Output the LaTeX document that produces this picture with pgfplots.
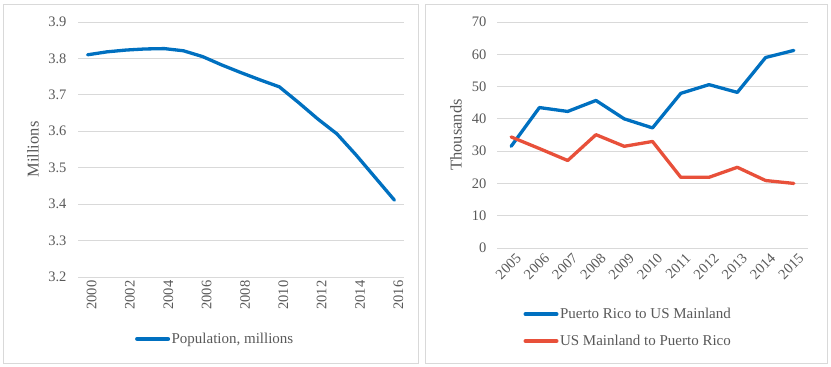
\documentclass[border=0pt]{standalone}
\usepackage{fontspec}
\setmainfont{Liberation Serif}
\usepackage{pgfplots}
\pgfplotsset{compat=1.18}
\definecolor{xlblue}{RGB}{0,112,192}
\definecolor{xlred}{RGB}{232,80,58}
\definecolor{gridc}{RGB}{217,217,217}
\definecolor{txtc}{RGB}{89,89,89}
\pgfplotsset{
  xlstyle/.style={
    scale only axis,
    axis line style={draw=none},
    ymajorgrids,
    grid style={gridc, line width=1bp},
    major tick length=0pt,
    tick style={draw=none},
    clip=false,
    /pgf/number format/assume math mode=true,
    /pgf/number format/1000 sep={},
    tick label style={text=txtc, font=\fontsize{14.5bp}{17bp}\selectfont},
    legend style={draw=none, fill=none, font=\fontsize{15bp}{18bp}\selectfont, text=txtc,
      legend cell align=left, nodes={inner sep=1.5bp}},
    legend image code/.code={\draw[##1, line width=4bp, line cap=round] (0bp,0bp) -- (31bp,0bp);},
    every axis plot/.append style={line width=3.3bp, line join=round, line cap=round, mark=none},
  }
}
\begin{document}
\begin{tikzpicture}
\useasboundingbox (0bp,0bp) rectangle (831bp,-367bp);
\draw[gridc, line width=1bp] (3bp,-4bp) rectangle (418bp,-363bp);
\draw[gridc, line width=1bp] (425bp,-4bp) rectangle (827bp,-363bp);
\begin{axis}[xlstyle,
  at={(78bp,-277bp)}, anchor=south west,
  width=326bp, height=255bp,
  xmin=1999.5, xmax=2016.5,
  ymin=3.2, ymax=3.9,
  xtick={2000,2002,...,2016},
  ytick={3.2,3.3,...,3.9},
  yticklabel style={/pgf/number format/fixed, /pgf/number format/fixed zerofill, /pgf/number format/precision=1, xshift=-8bp},
  xticklabel style={rotate=90, anchor=east, yshift=-4bp},
  ylabel={Millions},
  every axis y label/.style={at={(rel axis cs:-0.138,0.5)}, rotate=90, anchor=center, text=txtc, font=\fontsize{16.5bp}{19bp}\selectfont},
  legend style={at={(rel axis cs:0.42,-0.243)}, anchor=center},
]
\addplot[xlblue] coordinates {
(2000,3.810) (2001,3.818) (2002,3.823) (2003,3.826) (2004,3.827) (2005,3.821)
(2006,3.805) (2007,3.782) (2008,3.761) (2009,3.741) (2010,3.722) (2011,3.679)
(2012,3.634) (2013,3.593) (2014,3.535) (2015,3.473) (2016,3.411)};
\addlegendentry{Population, millions}
\end{axis}
\begin{axis}[xlstyle,
  at={(497bp,-248bp)}, anchor=south west,
  width=311bp, height=226bp,
  xmin=2004.5, xmax=2015.5,
  ymin=0, ymax=70,
  xtick={2005,...,2015},
  ytick={0,10,...,70},
  yticklabel style={xshift=-7bp},
  xticklabel style={rotate=45, anchor=east, xshift=3bp, yshift=-11bp},
  ylabel={Thousands},
  every axis y label/.style={at={(rel axis cs:-0.132,0.5)}, rotate=90, anchor=center, text=txtc, font=\fontsize{16.5bp}{19bp}\selectfont},
  legend style={at={(rel axis cs:0.421,-0.352)}, anchor=center, row sep=12bp},
]
\addplot[xlblue] coordinates {
(2005,31.5) (2006,43.5) (2007,42.3) (2008,45.7) (2009,40.0) (2010,37.2)
(2011,47.9) (2012,50.6) (2013,48.2) (2014,59.0) (2015,61.2)};
\addlegendentry{Puerto Rico to US Mainland}
\addplot[xlred] coordinates {
(2005,34.4) (2006,30.8) (2007,27.1) (2008,35.1) (2009,31.5) (2010,33.0)
(2011,21.9) (2012,21.9) (2013,25.0) (2014,20.9) (2015,20.0)};
\addlegendentry{US Mainland to Puerto Rico}
\end{axis}
\end{tikzpicture}
\end{document}
